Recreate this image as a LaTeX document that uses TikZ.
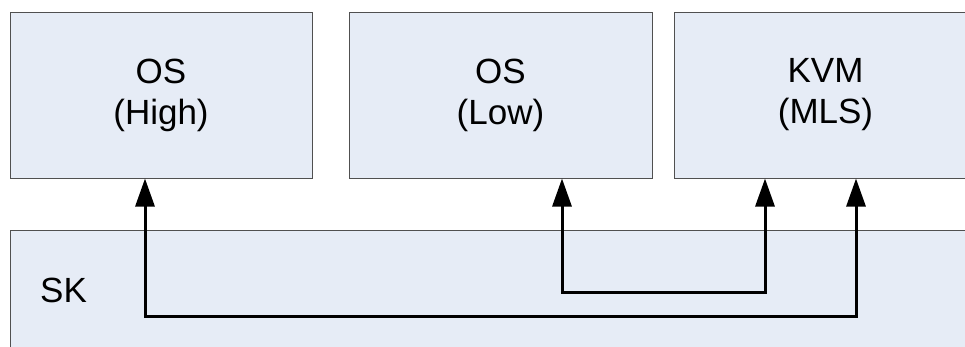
\documentclass[tikz,border=0pt]{standalone}
\usepackage{fontspec}
\setmainfont{Liberation Sans}
\usetikzlibrary{arrows.meta}
\definecolor{boxfill}{HTML}{E6ECF6}
\definecolor{boxline}{HTML}{505050}

\begin{document}
\begin{tikzpicture}[x=1pt, y=-1pt, box/.style = {shape=rectangle, draw=boxline, line width=1pt, fill=boxfill, align=center, inner sep=0pt, font=\fontsize{35}{41}\selectfont}, link/.style = {line width=3pt, {Triangle[length=28pt,width=19pt]}-{Triangle[length=28pt,width=19pt]}}]
	\clip (0,0) rectangle (965,346);
	\fill[white] (0,0) rectangle (965,346);
	\node[box, minimum width=302pt, minimum height=166pt] (high) at (161,95) {OS\\(High)};
	\node[box, minimum width=303pt, minimum height=166pt] (low) at (500.5,95) {OS\\(Low)};
	\node[box, minimum width=303pt, minimum height=166pt] (kvm) at (825.5,95) {KVM\\(MLS)};
	\node[box, minimum width=1000pt, minimum height=180pt] (sk) at (510,320) {};
	\node[font=\fontsize{35}{41}\selectfont, anchor=west, inner sep=0pt] (sklabel) at (40,290) {SK};
	\coordinate (hl) at (145,316);
	\coordinate (hr) at (856,316);
	\coordinate (ll) at (562,292);
	\coordinate (lr) at (765,292);
	\draw[link] (high.south -| hl) |- (hr) -- (kvm.south -| hr);
	\draw[link] (low.south -| ll) |- (lr) -- (kvm.south -| lr);
\end{tikzpicture}
\end{document}
